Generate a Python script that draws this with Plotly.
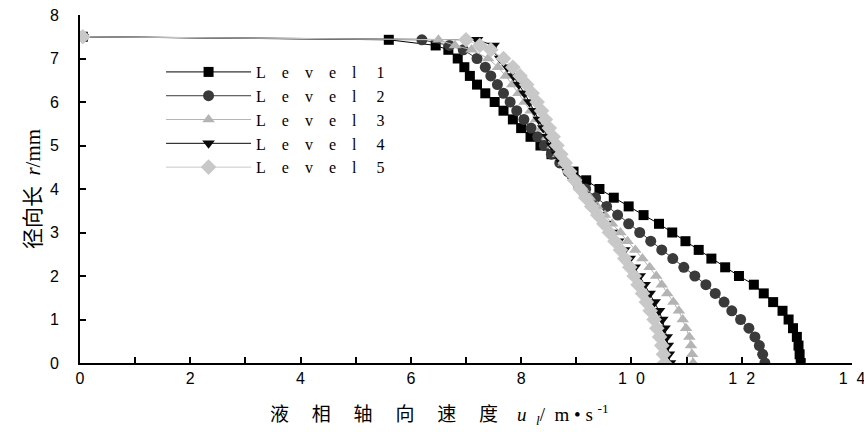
import plotly.graph_objects as go

r_vals = [0.0, 0.2, 0.4, 0.6, 0.8, 1.0, 1.2, 1.4, 1.6, 1.8, 2.0, 2.2, 2.4, 2.6, 2.8,
          3.0, 3.2, 3.4, 3.6, 3.8, 4.0, 4.2, 4.4, 4.6, 4.8, 5.0, 5.2, 5.4, 5.6, 5.8,
          6.0, 6.2, 6.4, 6.6, 6.8, 7.0, 7.2, 7.3, 7.43, 7.5]

u_level1 = [13.07, 13.05, 13.03, 13.0, 12.93, 12.85, 12.74, 12.57, 12.4, 12.22, 11.95, 11.7,
            11.45, 11.22, 10.98, 10.74, 10.5, 10.22, 9.95, 9.68, 9.42, 9.18, 8.95, 8.75, 8.55,
            8.35, 8.17, 8.0, 7.85, 7.68, 7.52, 7.35, 7.2, 7.07, 6.97, 6.85, 6.68, 6.45, 5.6, 0.05]
u_level2 = [12.42, 12.38, 12.32, 12.24, 12.13, 11.98, 11.82, 11.68, 11.52, 11.35, 11.15, 10.95,
            10.75, 10.55, 10.35, 10.15, 9.95, 9.75, 9.55, 9.35, 9.17, 9.0, 8.85, 8.7, 8.55,
            8.42, 8.3, 8.18, 8.05, 7.92, 7.8, 7.68, 7.57, 7.45, 7.35, 7.2, 6.95, 6.7, 6.2, 0.05]
u_level3 = [11.12, 11.1, 11.08, 11.05, 10.99, 10.93, 10.86, 10.76, 10.65, 10.55, 10.45, 10.33,
            10.2, 10.07, 9.93, 9.8, 9.65, 9.52, 9.38, 9.25, 9.13, 9.0, 8.88, 8.77, 8.67,
            8.57, 8.47, 8.37, 8.27, 8.17, 8.06, 7.95, 7.84, 7.72, 7.58, 7.4, 7.1, 6.8, 6.5, 0.05]
u_level4 = [10.7, 10.68, 10.66, 10.64, 10.6, 10.56, 10.5, 10.42, 10.33, 10.24, 10.15, 10.06,
            9.97, 9.87, 9.76, 9.64, 9.52, 9.4, 9.28, 9.16, 9.05, 8.94, 8.84, 8.74, 8.65,
            8.56, 8.48, 8.4, 8.32, 8.24, 8.15, 8.06, 7.96, 7.86, 7.75, 7.62, 7.45, 7.5, 7.2, 0.05]
u_level5 = [10.6, 10.58, 10.55, 10.51, 10.46, 10.41, 10.34, 10.27, 10.2, 10.12, 10.05, 9.97,
            9.88, 9.8, 9.7, 9.6, 9.5, 9.39, 9.28, 9.17, 9.07, 8.97, 8.88, 8.8, 8.72,
            8.65, 8.58, 8.51, 8.44, 8.37, 8.29, 8.2, 8.1, 7.98, 7.85, 7.68, 7.45, 7.25, 7.0, 0.05]

SP = "\u00a0" * 4
series_names = [SP.join("Level") + SP + "\u00a0" + n for n in ["1", "2", "3", "4", "5"]]
series_u = [u_level1, u_level2, u_level3, u_level4, u_level5]
colors = ["#000000", "#3a3a3a", "#b4b4b4", "#0a0a0a", "#c8c8c8"]
symbols = ["square", "circle", "triangle-up", "triangle-down", "diamond"]
sizes = [10, 11, 11, 11, 12]

x_tickvals = list(range(0, 15))
x_ticktext = ["0", "", "2", "", "4", "", "6", "", "8", "",
              "1\u00a0\u00a00", "", "1\u00a0\u00a02", "", "1\u00a0\u00a04"]
y_tickvals = list(range(0, 9))

GAP = "\u2003\u2009"
SERIF = "font-family:'Liberation Serif'"
x_title = (GAP.join("液相轴向速度") + "\u2003"
           + f"<span style=\"{SERIF}\"><i>u</i>\u2002<sub><i>l</i></sub>/\u2002m\u2005•\u2005s\u2005<sup>-1</sup></span>")
y_title = f"径向长\u2002<span style=\"{SERIF}\"><i>r</i>/mm</span>"

fig = go.Figure()
for name, u, c, s, sz in zip(series_names, series_u, colors, symbols, sizes):
    fig.add_trace(go.Scatter(
        x=u, y=r_vals, mode="lines+markers", name=name,
        line=dict(color=c, width=1),
        marker=dict(symbol=s, size=sz, color=c, line=dict(width=0)),
    ))

fig.add_annotation(
    text=x_title, xref="paper", yref="paper",
    x=0.2435, y=-0.1437, xanchor="left", yanchor="middle", showarrow=False,
    font=dict(family="Noto Sans CJK SC", size=19, color="black"),
)

fig.update_layout(
    width=864, height=432,
    margin=dict(l=80, r=12, t=15, b=69),
    paper_bgcolor="white", plot_bgcolor="white",
    font=dict(family="Liberation Sans, Arial", size=16, color="black"),
    showlegend=True,
    legend=dict(
        x=0.105, y=0.885, xanchor="left", yanchor="top",
        bgcolor="rgba(0,0,0,0)",
        font=dict(family="Liberation Serif, DejaVu Serif", size=16, color="black"),
        itemwidth=85, tracegroupgap=0,
    ),
    xaxis=dict(
        range=[0, 14], tickmode="array", tickvals=x_tickvals, ticktext=x_ticktext,
        ticks="inside", ticklen=6, tickwidth=2, tickcolor="black",
        showline=True, linecolor="black", linewidth=2, showgrid=False, zeroline=False,
        tickfont=dict(family="Liberation Sans, Arial", size=16),
        ticklabeloverflow="allow", automargin=False,
    ),
    yaxis=dict(
        range=[0, 8], tickmode="array", tickvals=y_tickvals,
        ticks="inside", ticklen=6, tickwidth=2, tickcolor="black",
        showline=True, linecolor="black", linewidth=2, showgrid=False, zeroline=False,
        tickfont=dict(family="Liberation Sans, Arial", size=16),
        ticklabelstandoff=16, automargin=False,
        title=dict(
            text=y_title,
            font=dict(family="Noto Sans CJK SC", size=21), standoff=4,
        ),
    ),
)

fig.write_html("out.html")
